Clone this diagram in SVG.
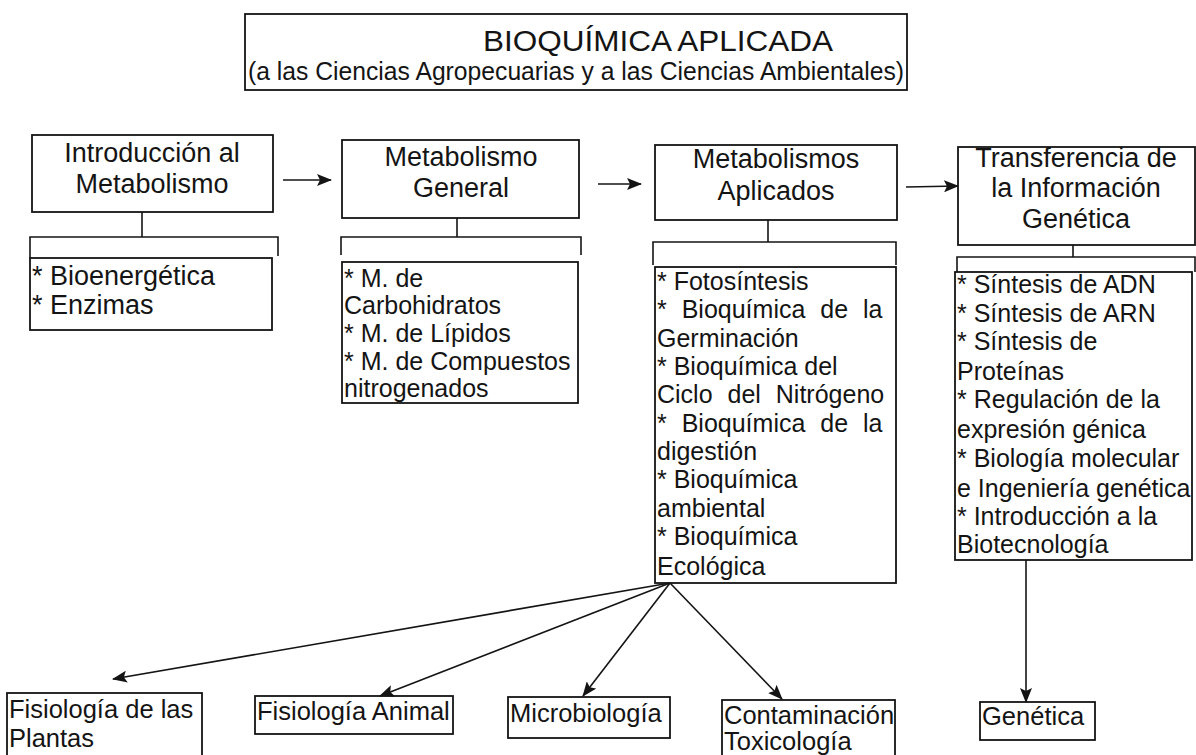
<svg xmlns="http://www.w3.org/2000/svg" width="1196" height="755" viewBox="0 0 1196 755">
<style>
  .box { fill: none; stroke: #141414; stroke-width: 1.8; }
  .ln { fill: none; stroke: #141414; stroke-width: 1.6; }
  .hd { font-family: "Liberation Sans", Arial, sans-serif; font-size: 27px; fill: #141414; text-anchor: middle; }
  .ls { font-family: "Liberation Sans", Arial, sans-serif; font-size: 25px; fill: #141414; }
  .ws { word-spacing: 8px; }
  .lb { font-family: "Liberation Sans", Arial, sans-serif; font-size: 27px; fill: #141414; }
  .bt { font-family: "Liberation Sans", Arial, sans-serif; font-size: 25.5px; fill: #141414; }
  .tt { font-family: "Liberation Sans", Arial, sans-serif; fill: #141414; }
</style>
<defs>
  <marker id="ah" markerUnits="userSpaceOnUse" markerWidth="16" markerHeight="12" refX="14" refY="6" orient="auto">
    <path d="M0,0 L15,6 L0,12 L3,6 z" fill="#141414"/>
  </marker>
</defs>
<rect width="1196" height="755" fill="#ffffff"/>

<g id="title">
  <rect class="box" x="245" y="14" width="662" height="76"/>
  <text class="tt" x="483" y="51" font-size="30px" textLength="350" lengthAdjust="spacingAndGlyphs">BIOQUÍMICA APLICADA</text>
  <text class="tt" x="248" y="80" font-size="26px" textLength="656" lengthAdjust="spacingAndGlyphs">(a las Ciencias Agropecuarias y a las Ciencias Ambientales)</text>
</g>

<g id="intro">
  <rect class="box" x="32" y="135" width="241" height="77"/>
  <text class="hd" x="152" y="162">Introducción al</text>
  <text class="hd" x="152" y="193">Metabolismo</text>
</g>
<g id="intro-list">
  <rect class="box" x="30" y="258" width="242" height="72"/>
  <text class="lb" x="32" y="285">* Bioenergética</text>
  <text class="lb" x="32" y="314">* Enzimas</text>
</g>

<g id="general">
  <rect class="box" x="342" y="140" width="237" height="78"/>
  <text class="hd" x="461" y="166">Metabolismo</text>
  <text class="hd" x="461" y="197">General</text>
</g>
<g id="general-list">
  <rect class="box" x="342" y="262" width="236" height="141"/>
  <text class="ls" x="344" y="287">* M. de</text>
  <text class="ls" x="344" y="314">Carbohidratos</text>
  <text class="ls" x="344" y="342">* M. de Lípidos</text>
  <text class="ls" x="344" y="370">* M. de Compuestos</text>
  <text class="ls" x="344" y="397">nitrogenados</text>
</g>

<g id="aplicados">
  <rect class="box" x="655" y="145" width="242" height="75"/>
  <text class="hd" x="776" y="168">Metabolismos</text>
  <text class="hd" x="776" y="200">Aplicados</text>
</g>
<g id="aplicados-list">
  <rect class="box" x="655" y="267" width="241" height="316"/>
  <text class="ls" x="657" y="290">* Fotosíntesis</text>
  <text class="ls ws" x="657" y="318">* Bioquímica de la</text>
  <text class="ls" x="657" y="347">Germinación</text>
  <text class="ls" x="657" y="375">* Bioquímica del</text>
  <text class="ls ws" x="657" y="403">Ciclo del Nitrógeno</text>
  <text class="ls ws" x="657" y="432">* Bioquímica de la</text>
  <text class="ls" x="657" y="460">digestión</text>
  <text class="ls" x="657" y="488">* Bioquímica</text>
  <text class="ls" x="657" y="517">ambiental</text>
  <text class="ls" x="657" y="545">* Bioquímica</text>
  <text class="ls" x="657" y="575">Ecológica</text>
</g>

<g id="transferencia">
  <rect class="box" x="958" y="147" width="237" height="98"/>
  <text class="hd" x="1076" y="167">Transferencia de</text>
  <text class="hd" x="1076" y="197">la Información</text>
  <text class="hd" x="1076" y="228">Genética</text>
</g>
<g id="transferencia-list">
  <rect class="box" x="955" y="272" width="237" height="288"/>
  <text class="ls" x="957" y="293">* Síntesis de ADN</text>
  <text class="ls" x="957" y="322">* Síntesis de ARN</text>
  <text class="ls" x="957" y="350">* Síntesis de</text>
  <text class="ls" x="957" y="380">Proteínas</text>
  <text class="ls" x="957" y="408">* Regulación de la</text>
  <text class="ls" x="957" y="438">expresión génica</text>
  <text class="ls" x="957" y="467">* Biología molecular</text>
  <text class="ls" x="957" y="497">e Ingeniería genética</text>
  <text class="ls" x="957" y="525">* Introducción a la</text>
  <text class="ls" x="957" y="553">Biotecnología</text>
</g>

<g id="plantas">
  <rect class="box" x="7" y="693" width="195" height="72"/>
  <text class="bt" x="9" y="718">Fisiología de las</text>
  <text class="bt" x="9" y="747">Plantas</text>
</g>
<g id="animal">
  <rect class="box" x="255" y="696" width="198" height="38"/>
  <text class="bt" x="257" y="720">Fisiología Animal</text>
</g>
<g id="microbiologia">
  <rect class="box" x="508" y="697" width="162" height="41"/>
  <text class="bt" x="510" y="722">Microbiología</text>
</g>
<g id="contaminacion">
  <rect class="box" x="722" y="700" width="173" height="65"/>
  <text class="bt" x="724" y="724">Contaminación</text>
  <text class="bt" x="724" y="750">Toxicología</text>
</g>
<g id="genetica">
  <rect class="box" x="980" y="702" width="115" height="38"/>
  <text class="bt" x="982" y="725">Genética</text>
</g>

<g id="connectors">
  <path class="ln" d="M142,212 V237 M30,258 V237 H278 V256"/>
  <path class="ln" d="M457,218 V237 M341,255 V237 H581 V255"/>
  <path class="ln" d="M768,220 V242 M653,265 V242 H896 V265"/>
  <path class="ln" d="M1073,245 V257 M957,272 V257 H1195 V272"/>
  <line class="ln" x1="283" y1="180" x2="331" y2="180" marker-end="url(#ah)"/>
  <line class="ln" x1="598" y1="184" x2="641" y2="184" marker-end="url(#ah)"/>
  <line class="ln" x1="906" y1="187" x2="958" y2="186" marker-end="url(#ah)"/>
  <line class="ln" x1="670" y1="583" x2="113" y2="679" marker-end="url(#ah)"/>
  <line class="ln" x1="670" y1="583" x2="380" y2="696" marker-end="url(#ah)"/>
  <line class="ln" x1="670" y1="583" x2="583" y2="696" marker-end="url(#ah)"/>
  <line class="ln" x1="670" y1="583" x2="782" y2="699" marker-end="url(#ah)"/>
  <line class="ln" x1="1026" y1="560" x2="1026" y2="702" marker-end="url(#ah)"/>
</g>
</svg>
